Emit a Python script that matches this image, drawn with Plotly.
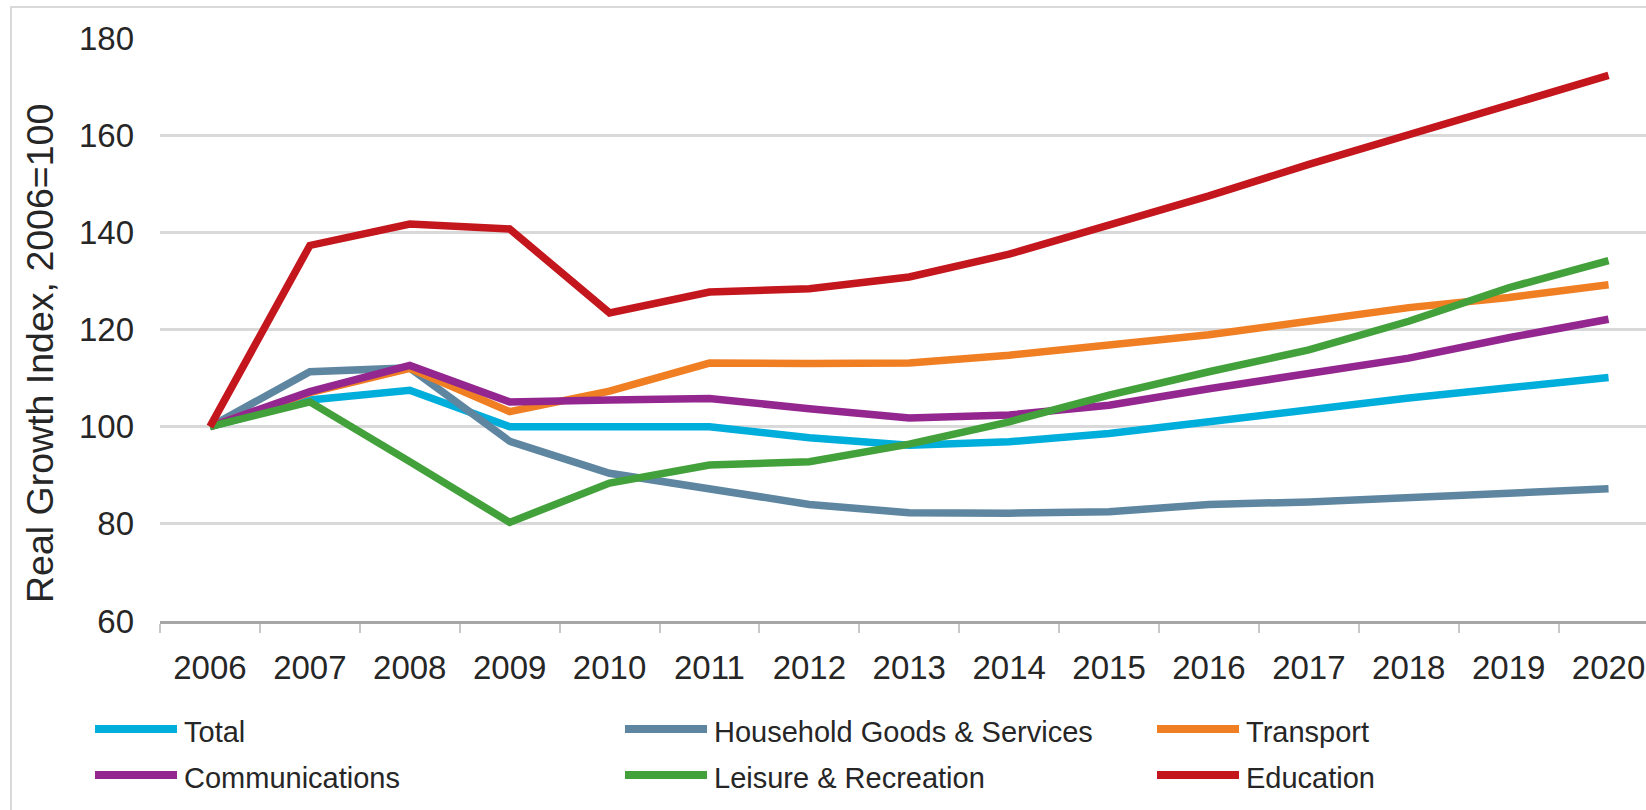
import plotly.graph_objects as go

# values (real growth index, 2006 = 100)
years = [str(y) for y in range(2006, 2021)]

total = [100, 105.5, 107.5, 100, 100, 100, 97.7, 96.2, 96.9, 98.6, 101, 103.6, 105.9, 108, 110.1]
household = [100, 111.3, 112.1, 97, 90.4, 87.3, 84, 82.3, 82.2, 82.5, 84, 84.5, 85.5, 86.2, 87.2]
transport = [100, 107, 112, 103.1, 107.3, 113.1, 113, 113.1, 114.7, 116.7, 118.9, 121.7, 124.5, 126.6, 129.2]
communications = [100, 107.2, 112.6, 105.1, 105.5, 105.8, 103.7, 101.8, 102.4, 104.4, 107.8, 110.8, 114.1, 118.3, 122.1]
leisure = [100, 105.1, 92.8, 80.3, 88.4, 92.1, 92.8, 96.4, 101, 106.5, 111.3, 115.8, 121.7, 128.6, 134.2]
education = [100, 137.3, 141.7, 140.7, 123.4, 127.7, 128.4, 130.8, 135.5, 141.5, 147.5, 154, 160.2, 166.4, 172.3]

names = ["Total", "Household Goods & Services", "Transport",
         "Communications", "Leisure & Recreation", "Education"]
colors = ["#00AEDB", "#5E86A1", "#F07E23", "#93268F", "#43A13B", "#C3161D"]
values = [total, household, transport, communications, leisure, education]

y_ticks = [60, 80, 100, 120, 140, 160, 180]

FONT = "Liberation Sans, Arial, sans-serif"
TXT = "#262626"

# page / plot geometry in pixels
W, H = 1646, 810
L, T, B = 160, 38, 621


def px(x):
    return (x - L) / (W - L)


def py(y):
    return (B - y) / (B - T)


fig = go.Figure()
for name, vals, col in zip(names, values, colors):
    fig.add_trace(go.Scatter(x=years, y=vals, name=name, mode="lines",
                             line=dict(color=col, width=7.5), showlegend=False))

# hand-made legend: 2 rows x 3 columns, long line swatches
col_x = [95, 625, 1157]
row_y = [729, 775]
shapes = []
annotations = []
for i, (name, col) in enumerate(zip(names, colors)):
    x0 = col_x[i % 3]
    y0 = row_y[i // 3]
    shapes.append(dict(type="line", xref="paper", yref="paper",
                       x0=px(x0), x1=px(x0 + 82), y0=py(y0), y1=py(y0),
                       line=dict(color=col, width=8)))
    annotations.append(dict(xref="paper", yref="paper", x=px(x0 + 87), y=py(y0 + 3),
                            text=name, showarrow=False, xanchor="left", yanchor="middle",
                            font=dict(family=FONT, size=29, color=TXT)))

# outer chart border (top and left edges visible)
shapes.append(dict(type="rect", xref="paper", yref="paper", layer="below",
                   x0=px(11), x1=px(1700), y0=py(7), y1=py(860),
                   line=dict(color="#d9d9d9", width=2)))

annotations.append(dict(xref="paper", yref="paper", x=px(40), y=py(354),
                        text="Real Growth Index, 2006=100", showarrow=False,
                        textangle=-90, xanchor="center", yanchor="middle",
                        font=dict(family=FONT, size=37.5, color=TXT)))

fig.update_layout(
    width=W, height=H,
    margin=dict(l=L, r=0, t=T, b=H - B, pad=0),
    paper_bgcolor="white", plot_bgcolor="white",
    shapes=shapes, annotations=annotations,
    font=dict(family=FONT, color=TXT),
    xaxis=dict(type="category", range=[-0.5, 14.375],
               showgrid=False, zeroline=False,
               showline=True, linecolor="#a6a6a6", linewidth=3,
               ticks="outside", tickson="boundaries", ticklen=9,
               tickcolor="#c8c8c8", tickwidth=2,
               tickfont=dict(family=FONT, size=33, color=TXT),
               ticklabelstandoff=15),
    yaxis=dict(range=[60, 180], tickvals=y_ticks,
               showgrid=True, gridcolor="#d9d9d9", gridwidth=3,
               zeroline=False, showline=False, ticks="",
               tickfont=dict(family=FONT, size=33, color=TXT),
               ticklabelstandoff=25),
)

# page body has a default 8px margin; drop it so the figure sits at the corner
fig.write_html("out.html", config={"displayModeBar": False},
               post_script="document.body.style.margin='0';")
